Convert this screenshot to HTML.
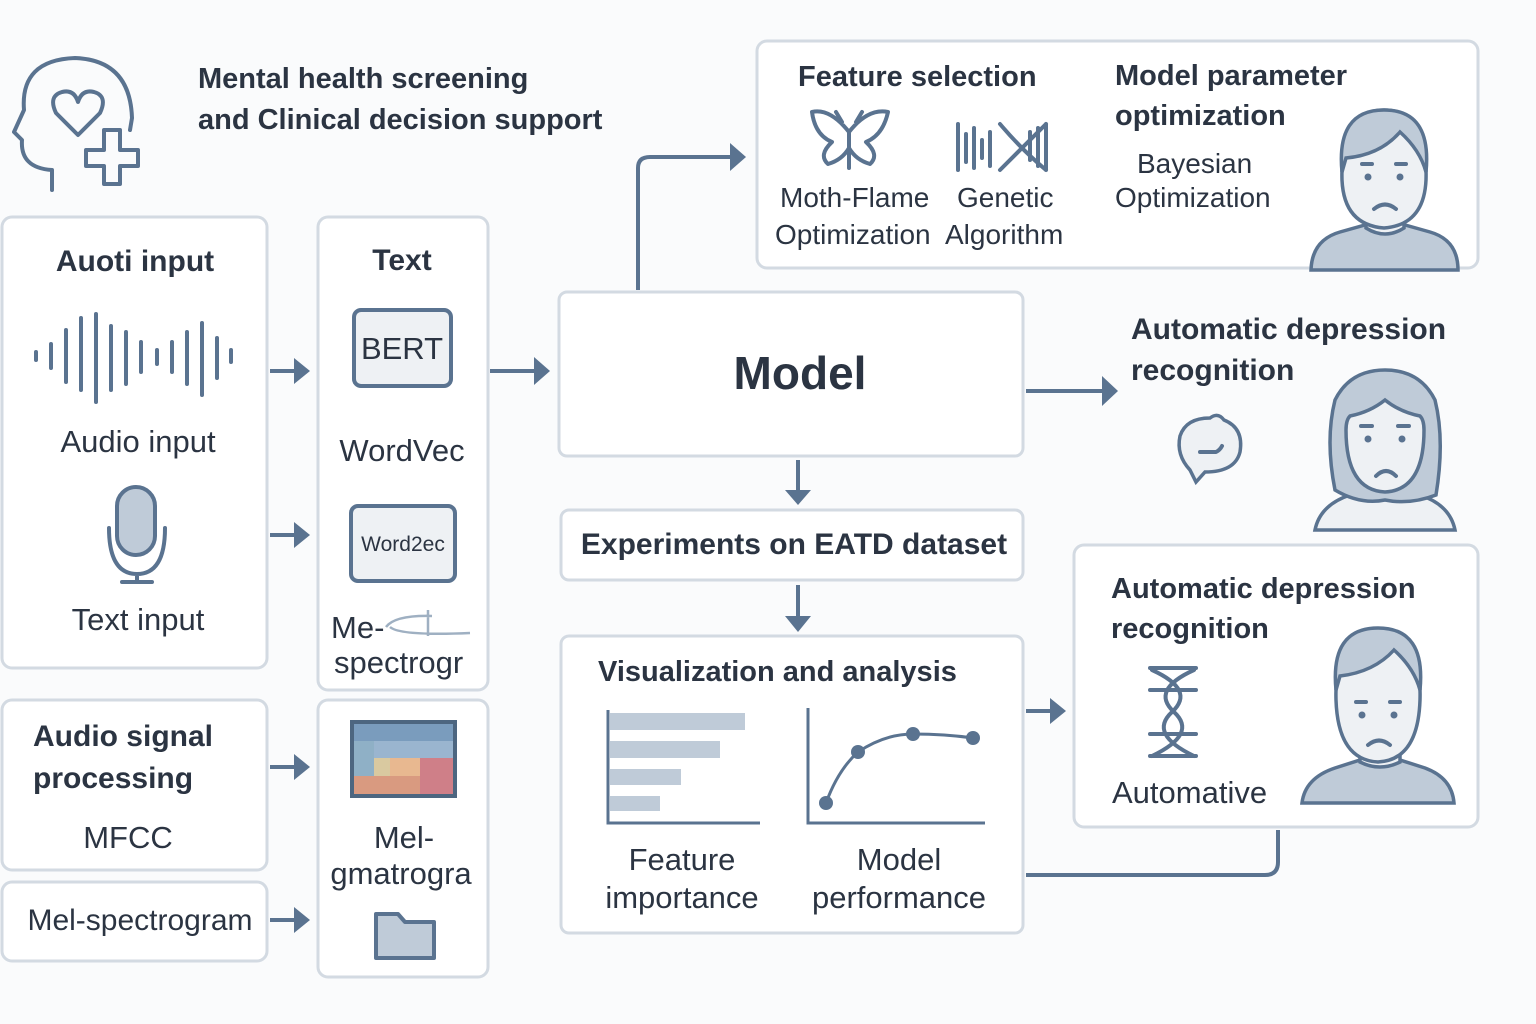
<!DOCTYPE html>
<html><head><meta charset="utf-8"><style>
html,body{margin:0;padding:0;background:#fafbfc;}
svg{display:block}
text{font-family:"Liberation Sans",sans-serif;fill:#2b3442}
.b{font-weight:bold}
.box{fill:#fff;stroke:#d3dae2;stroke-width:3}
.ic{fill:none;stroke:#5a7390;stroke-width:4;stroke-linecap:round;stroke-linejoin:round}
.icf{fill:#bfcbd8;stroke:#5a7390;stroke-width:4;stroke-linejoin:round}
.ar{fill:none;stroke:#5a7390;stroke-width:4}
.ah{fill:#5a7390}
</style></head><body>
<svg width="1536" height="1024" viewBox="0 0 1536 1024" xmlns="http://www.w3.org/2000/svg">
<!-- head icon -->
<path class="ic" d="M52 190 L52 170 Q20 168 22 140 L14 132 L24 110 Q20 60 75 58 Q130 60 132 118 L130 130" />
<path class="ic" d="M78 135 L56 113 Q48 96 62 92 Q74 89 78 102 Q82 89 94 92 Q108 96 100 113 Z"/>
<path class="ic" d="M104 130 h16 v20 h18 v16 h-18 v18 h-16 v-18 h-18 v-16 h18 z"/>
<text x="198" y="88" font-size="29" class="b" fill="#2b3442">Mental health screening</text>
<text x="198" y="129" font-size="29" class="b">and Clinical decision support</text>

<!-- left boxes -->
<rect class="box" x="2" y="217" width="265" height="451" rx="10"/>
<text x="135" y="271" font-size="30" class="b" text-anchor="middle">Auoti input</text>
<g class="ic" stroke-width="4">
<path d="M36 352v8M51 344v24M66 330v52M81 318v72M96 314v88M111 326v64M126 332v52M141 342v30M157 350v14M172 342v30M187 332v52M202 323v72M217 338v40M231 350v12"/>
</g>
<text x="138" y="452" font-size="31" text-anchor="middle">Audio input</text>
<rect class="icf" x="117" y="487" width="38" height="68" rx="19"/>
<path class="ic" d="M109 528 Q109 574 137 574 Q165 574 165 528 M137 574 V582 M122 582 H152"/>
<text x="138" y="630" font-size="31" text-anchor="middle">Text input</text>

<rect class="box" x="318" y="217" width="170" height="473" rx="10"/>
<text x="402" y="270" font-size="30" class="b" text-anchor="middle">Text</text>
<rect x="354" y="310" width="97" height="76" rx="7" fill="#eef1f4" stroke="#5a7390" stroke-width="4"/>
<text x="402" y="359" font-size="31" text-anchor="middle">BERT</text>
<text x="402" y="461" font-size="31" text-anchor="middle">WordVec</text>
<rect x="351" y="506" width="104" height="75" rx="7" fill="#eef1f4" stroke="#5a7390" stroke-width="4"/>
<text x="403" y="551" font-size="21" text-anchor="middle">Word2ec</text>
<text x="331" y="638" font-size="31">Me-</text>
<path d="M386 627 Q395 615 432 616 M390 627 Q400 636 470 633 M428 610 V636" fill="none" stroke="#9fb0c2" stroke-width="2.5"/>
<text x="334" y="673" font-size="31">spectrogr</text>

<rect class="box" x="2" y="700" width="265" height="170" rx="10"/>
<text x="33" y="746" font-size="30" class="b">Audio signal</text>
<text x="33" y="788" font-size="30" class="b">processing</text>
<text x="128" y="848" font-size="31" text-anchor="middle">MFCC</text>

<rect class="box" x="2" y="882" width="265" height="79" rx="10"/>
<text x="140" y="930" font-size="30" text-anchor="middle">Mel-spectrogram</text>

<rect class="box" x="318" y="700" width="170" height="277" rx="10"/>
<g>
<rect x="350" y="720" width="107" height="78" fill="#4d6680"/>
<rect x="354" y="724" width="99" height="17" fill="#7a9cbd"/>
<rect x="354" y="741" width="99" height="17" fill="#9ab5cf"/>
<rect x="354" y="758" width="99" height="18" fill="#d9c9a0"/>
<rect x="390" y="758" width="63" height="18" fill="#e8b890"/>
<rect x="354" y="776" width="99" height="18" fill="#d99a80"/>
<rect x="420" y="758" width="33" height="36" fill="#cf7f88"/>
<rect x="354" y="741" width="20" height="35" fill="#8fb0c6"/>
</g>
<text x="404" y="848" font-size="31" text-anchor="middle">Mel-</text>
<text x="401" y="884" font-size="31" text-anchor="middle">gmatrogra</text>
<path d="M376 958 V914 H398 L405 922 H434 V958 Z" fill="#bfcbd8" stroke="#5a7390" stroke-width="4" stroke-linejoin="round"/>

<!-- arrows left -->
<g>
<path class="ar" d="M270 371 H296"/><path class="ah" d="M294 358 L310 371 L294 384Z"/>
<path class="ar" d="M270 535 H296"/><path class="ah" d="M294 522 L310 535 L294 548Z"/>
<path class="ar" d="M270 767 H296"/><path class="ah" d="M294 754 L310 767 L294 780Z"/>
<path class="ar" d="M270 920 H296"/><path class="ah" d="M294 907 L310 920 L294 933Z"/>
<path class="ar" d="M490 371 H536"/><path class="ah" d="M534 357 L550 371 L534 385Z"/>
</g>

<!-- model -->
<rect class="box" x="559" y="292" width="464" height="164" rx="8"/>
<text x="800" y="389" font-size="46" class="b" text-anchor="middle">Model</text>
<path class="ar" d="M638 290 V168 Q638 157 650 157 H732"/><path class="ah" d="M730 143 L746 157 L730 171Z"/>

<!-- feature box -->
<rect class="box" x="757" y="41" width="721" height="227" rx="10"/>
<text x="798" y="86" font-size="29" class="b">Feature selection</text>
<path class="ic" stroke-width="3" d="M849 132 L849 168 M849 132 Q830 108 812 112 Q815 135 832 142 Q818 155 828 164 Q842 160 849 148 Q856 160 870 164 Q880 155 866 142 Q883 135 888 112 Q868 108 849 132 M842 122 L836 112 M856 122 L862 112"/>
<path class="ic" stroke-width="3" d="M958 124 V170 M966 134 V162 M974 128 V168 M982 140 V158 M990 132 V166 M1000 124 Q1022 150 1046 170 M1000 170 Q1022 148 1046 124 M1030 132 V160 M1038 128 V166 M1046 124 V170"/>
<text x="780" y="207" font-size="28">Moth-Flame</text>
<text x="775" y="244" font-size="28">Optimization</text>
<text x="957" y="207" font-size="28">Genetic</text>
<text x="945" y="244" font-size="28">Algorithm</text>
<text x="1115" y="85" font-size="29" class="b">Model parameter</text>
<text x="1115" y="125" font-size="29" class="b">optimization</text>
<text x="1137" y="173" font-size="28">Bayesian</text>
<text x="1115" y="207" font-size="28">Optimization</text>
<!-- man 1 -->
<path d="M1311 270 Q1312 240 1340 232 L1365 225 H1405 L1430 232 Q1458 240 1458 270 Z" fill="#bfcbd8" stroke="#5a7390" stroke-width="3.5"/>
<path d="M1366 210 V228 Q1385 240 1404 228 V210" fill="#eef1f4" stroke="#5a7390" stroke-width="3.5"/>
<path d="M1342 180 Q1340 110 1384 110 Q1428 110 1426 180 Q1424 225 1384 228 Q1344 225 1342 180Z" fill="#eef1f4" stroke="#5a7390" stroke-width="3.5"/>
<path d="M1342 172 Q1336 110 1384 110 Q1432 110 1426 172 Q1420 150 1400 132 Q1380 155 1346 158Z" fill="#bfcbd8" stroke="#5a7390" stroke-width="3.5"/>
<circle cx="1368" cy="177" r="3.5" fill="#5a7390"/><circle cx="1400" cy="177" r="3.5" fill="#5a7390"/>
<path class="ic" stroke-width="3" d="M1362 164 h10 M1396 164 h10 M1374 209 Q1385 200 1396 209"/>

<!-- arrow to ADR -->
<path class="ar" d="M1026 391 H1104"/><path class="ah" d="M1102 376 L1118 391 L1102 406Z"/>
<text x="1131" y="339" font-size="30" class="b">Automatic depression</text>
<text x="1131" y="380" font-size="30" class="b">recognition</text>
<path d="M1190 470 Q1176 455 1180 436 Q1186 418 1210 418 Q1218 412 1224 420 Q1244 428 1240 452 Q1235 472 1205 472 L1196 482 Z" fill="#eef1f4" stroke="#5a7390" stroke-width="3.5"/>
<path class="ic" stroke-width="3" d="M1200 452 H1216 Q1220 450 1222 446"/>
<!-- woman -->
<path d="M1315 530 Q1320 505 1350 495 L1375 488 H1395 L1420 495 Q1450 505 1455 530Z" fill="#eef1f4" stroke="#5a7390" stroke-width="3.5"/>
<path d="M1335 490 Q1325 440 1335 400 Q1350 370 1385 370 Q1420 370 1435 400 Q1445 440 1436 495 Q1410 505 1385 500 Q1360 505 1335 490Z" fill="#bfcbd8" stroke="#5a7390" stroke-width="3.5"/>
<path d="M1346 430 Q1346 490 1385 492 Q1424 490 1424 430 Q1424 420 1420 416 Q1400 412 1385 400 Q1370 412 1350 416 Q1346 420 1346 430Z" fill="#eef1f4" stroke="#5a7390" stroke-width="3.5"/>
<circle cx="1368" cy="439" r="3.5" fill="#5a7390"/><circle cx="1402" cy="439" r="3.5" fill="#5a7390"/>
<path class="ic" stroke-width="3" d="M1361 426 h11 M1398 426 h11 M1376 476 Q1386 466 1396 476"/>

<!-- experiments -->
<path class="ar" d="M798 460 V492"/><path class="ah" d="M785 490 L798 505 L811 490Z"/>
<rect class="box" x="561" y="510" width="462" height="70" rx="8"/>
<text x="794" y="554" font-size="30" class="b" text-anchor="middle">Experiments on EATD dataset</text>
<path class="ar" d="M798 585 V618"/><path class="ah" d="M785 616 L798 632 L811 616Z"/>

<!-- viz -->
<rect class="box" x="561" y="636" width="462" height="297" rx="8"/>
<text x="598" y="681" font-size="29" class="b">Visualization and analysis</text>
<path fill="none" stroke="#5a7390" stroke-width="3" d="M608 710 V823 H760"/>
<rect x="610" y="713" width="135" height="17" fill="#bfcbd8"/>
<rect x="610" y="741" width="110" height="17" fill="#bfcbd8"/>
<rect x="610" y="769" width="71" height="16" fill="#bfcbd8"/>
<rect x="610" y="796" width="50" height="15" fill="#bfcbd8"/>
<path fill="none" stroke="#5a7390" stroke-width="3" d="M808 708 V823 H985"/>
<path fill="none" stroke="#5a7390" stroke-width="3" d="M826 803 Q838 770 858 752 Q885 734 913 734 Q945 734 973 738"/>
<g fill="#5a7390"><circle cx="826" cy="803" r="7"/><circle cx="858" cy="752" r="7"/><circle cx="913" cy="734" r="7"/><circle cx="973" cy="738" r="7"/></g>
<text x="682" y="870" font-size="31" text-anchor="middle">Feature</text>
<text x="682" y="908" font-size="31" text-anchor="middle">importance</text>
<text x="899" y="870" font-size="31" text-anchor="middle">Model</text>
<text x="899" y="908" font-size="31" text-anchor="middle">performance</text>

<path class="ar" d="M1026 711 H1052"/><path class="ah" d="M1050 698 L1066 711 L1050 724Z"/>
<path class="ar" d="M1278 830 V862 Q1278 875 1265 875 H1026"/>

<!-- right box -->
<rect class="box" x="1074" y="545" width="404" height="282" rx="10"/>
<text x="1111" y="598" font-size="29" class="b">Automatic depression</text>
<text x="1111" y="638" font-size="29" class="b">recognition</text>
<g class="ic" stroke-width="4">
<path d="M1152 670 Q1196 690 1172 712 Q1148 734 1194 756 M1194 670 Q1150 690 1174 712 Q1198 734 1152 756"/>
<path d="M1150 668 H1196 M1150 690 H1196 M1150 734 H1196 M1150 756 H1196"/>
</g>
<text x="1112" y="803" font-size="31">Automative</text>
<!-- man 2 -->
<path d="M1302 803 Q1305 778 1335 768 L1360 760 H1400 L1425 768 Q1452 778 1454 803Z" fill="#bfcbd8" stroke="#5a7390" stroke-width="3.5"/>
<path d="M1360 745 V762 Q1380 772 1400 762 V745" fill="#eef1f4" stroke="#5a7390" stroke-width="3.5"/>
<path d="M1336 700 Q1334 630 1378 630 Q1422 630 1420 700 Q1418 760 1378 762 Q1338 760 1336 700Z" fill="#eef1f4" stroke="#5a7390" stroke-width="3.5"/>
<path d="M1336 690 Q1330 628 1378 628 Q1426 628 1420 690 Q1414 668 1394 650 Q1374 672 1340 676Z" fill="#bfcbd8" stroke="#5a7390" stroke-width="3.5"/>
<circle cx="1362" cy="715" r="3.5" fill="#5a7390"/><circle cx="1394" cy="715" r="3.5" fill="#5a7390"/>
<path class="ic" stroke-width="3" d="M1356 702 h10 M1390 702 h10 M1368 745 Q1379 736 1390 745"/>
</svg>
</body></html>
